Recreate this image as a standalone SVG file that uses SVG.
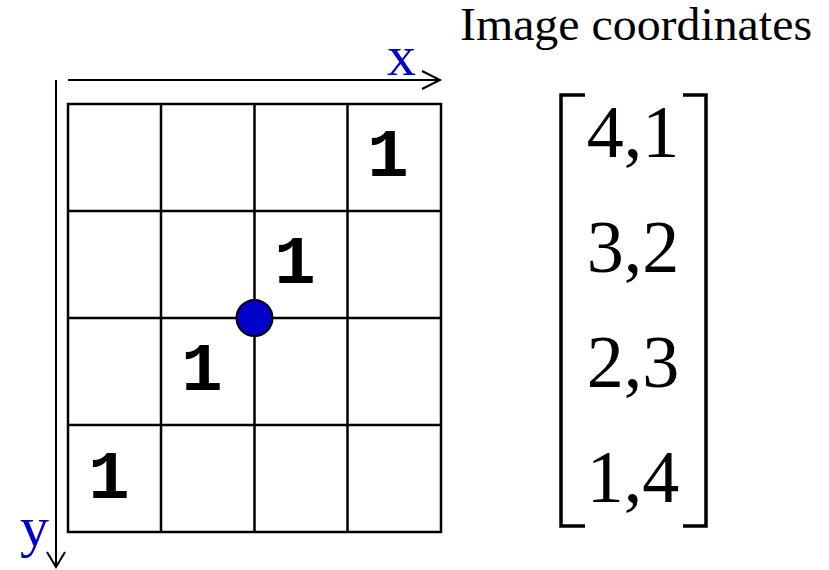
<svg xmlns="http://www.w3.org/2000/svg" width="829" height="570" viewBox="0 0 829 570">
<style>
.grid{stroke:#000;stroke-width:2.5;fill:none}
.axis{stroke:#000;stroke-width:2;fill:none}
.one{font-family:"Liberation Mono",monospace;font-weight:bold;font-size:69px;fill:#000;text-anchor:middle}
.lbl{font-family:"Liberation Serif",serif;font-size:58px;fill:#0000CC}
.mat{font-family:"Liberation Serif",serif;font-size:74px;fill:#000;text-anchor:middle}
.br{stroke:#000;stroke-width:3.5;fill:none}
</style>
<rect width="829" height="570" fill="#fff"/>
<g id="grid">
<rect class="grid" x="68" y="104" width="373" height="428"/>
<path class="grid" d="M161,104V532M254.5,104V532M347.5,104V532M68,211H441M68,318H441M68,425H441"/>
</g>
<g id="connectors">
<path class="axis" d="M68,80H440M422,71L440,80L422,89"/>
<path class="axis" d="M56,80V567M47,552L56,567L65,552"/>
</g>
<g id="labels">
<text class="lbl" x="387" y="75">x</text>
<text class="lbl" x="20" y="546">y</text>
<text x="460" y="40" font-family="Liberation Serif,serif" font-size="46" textLength="352" lengthAdjust="spacingAndGlyphs">Image coordinates</text>
</g>
<g id="ones">
<text class="one" x="388" y="176">1</text>
<text class="one" x="295" y="283">1</text>
<text class="one" x="202" y="390">1</text>
<text class="one" x="109" y="498">1</text>
</g>
<g id="dot">
<circle cx="254.5" cy="318" r="18" fill="#0000CC" stroke="#000" stroke-width="2"/>
</g>
<g id="matrix">
<path class="br" d="M585,95H561V526H585"/>
<path class="br" d="M683,95H706V526H683"/>
<text class="mat" x="633" y="157">4,1</text>
<text class="mat" x="633" y="272">3,2</text>
<text class="mat" x="633" y="387">2,3</text>
<text class="mat" x="633" y="502">1,4</text>
</g>
</svg>
